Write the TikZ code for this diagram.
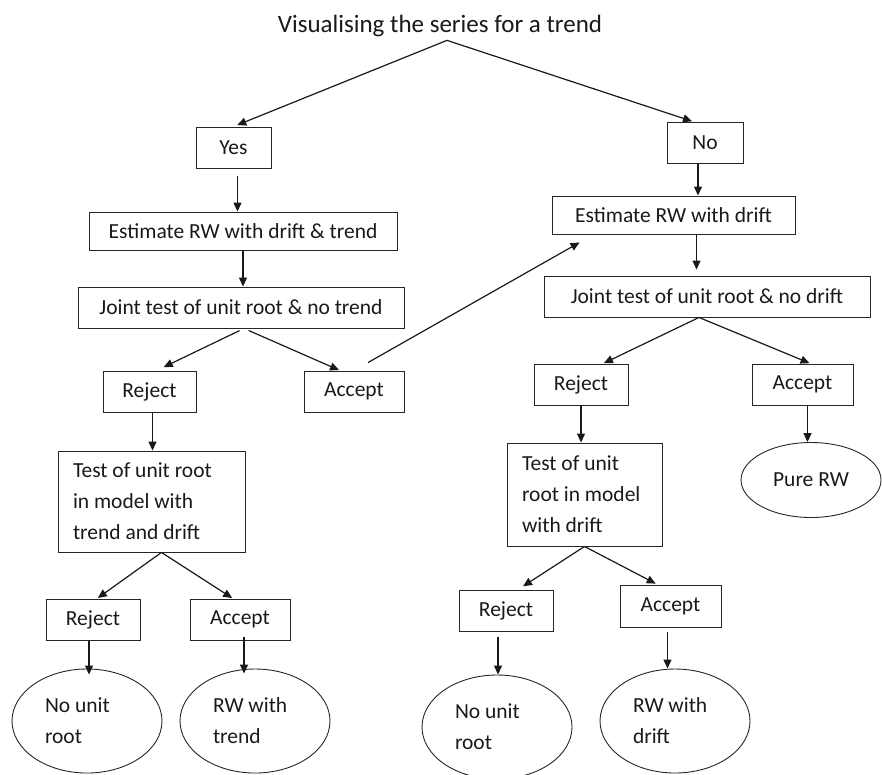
\documentclass[tikz,border=0pt]{standalone}
\usepackage{fontspec}
\setmainfont{Carlito}
\usetikzlibrary{arrows.meta,shapes.geometric}

\begin{document}
\begin{tikzpicture}[x=1pt, y=-1pt,
        every node/.style={font=\fontsize{21.5}{31}\selectfont, text=black!90},
        box/.style={draw=black!85, line width=0.9pt, rectangle, inner sep=0pt, minimum height=41pt},
        oval/.style={draw=black!85, line width=0.9pt, ellipse, inner sep=0pt, align=flush left, text width=84pt, minimum width=150pt, minimum height=104pt},
        arr/.style={-{Triangle[length=9pt, width=8pt]}, line width=1.2pt, black!90}]
        \useasboundingbox (0, 0) rectangle (882, 774);

        \node (title) at (440, 26) {\fontsize{25}{30}\selectfont Visualising the series for a trend};

        \node[box, minimum width=75pt] (yes) at (233.5, 147.5) {Yes};
        \node[box, minimum width=76pt] (no) at (705, 142.5) {No};

        \node[box, minimum width=308pt, minimum height=38pt] (estt) at (243, 231) {Estimate RW with drift \& trend};
        \node[box, minimum width=243pt, minimum height=38pt] (estd) at (673.5, 215) {Estimate RW with drift};

        \node[box, minimum width=326pt] (jtt) at (241, 307.5) {Joint test of unit root \& no trend};
        \node[box, minimum width=326pt] (jtd) at (707, 296.5) {Joint test of unit root \& no drift};

        \node[box, minimum width=93pt] (rej1) at (149.5, 391.5) {Reject};
        \node[box, minimum width=100pt] (acc1) at (354, 391.5) {Accept};
        \node[box, minimum width=94pt] (rej2) at (581, 384.5) {Reject};
        \node[box, minimum width=101pt] (acc2) at (802.5, 384.5) {Accept};

        \node[box, align=flush left, text width=157pt, minimum width=187pt, minimum height=101pt] (test1) at (151.5, 501.5) {Test of unit root\\in model with\\trend and drift};
        \node[box, align=flush left, text width=125pt, minimum width=155pt, minimum height=103pt] (test2) at (584.5, 494.5) {Test of unit\\root in model\\with drift};
        \node[oval, text width=, minimum width=140pt, minimum height=75pt] (purerw) at (811, 480) {Pure RW};

        \node[box, minimum width=94pt] (rej3) at (93, 619.5) {Reject};
        \node[box, minimum width=100pt] (acc3) at (240, 619.5) {Accept};
        \node[box, minimum width=94pt] (rej4) at (506, 610.5) {Reject};
        \node[box, minimum width=101pt, minimum height=42pt] (acc4) at (670.5, 606) {Accept};

        \node[oval] (nur1) at (87, 721) {No unit\\root};
        \node[oval] (rwt) at (255, 721) {RW with\\trend};
        \node[oval] (nur2) at (497, 727) {No unit\\root};
        \node[oval] (rwd) at (675, 721) {RW with\\drift};

        % trend branch
        \draw[arr, shorten >=4pt] ([xshift=7pt]title.south) -- (yes.north);
        \draw[arr, shorten >=1pt] ([xshift=7pt]title.south) -- ([xshift=-12pt]no.north);
        \draw[arr, shorten <=8pt] ([xshift=4pt]yes.south) -- ([xshift=4pt]yes.south |- estt.north);
        \draw[arr] (estt.south) -- (estt.south |- jtt.north);
        \draw[arr, shorten <=5pt, shorten >=8pt] ([xshift=3pt]jtt.south) -- ([xshift=7pt]rej1.north);
        \draw[arr, shorten <=5pt, shorten >=1pt] ([xshift=3pt]jtt.south) -- ([xshift=-14pt]acc1.north);
        \draw[arr] ([xshift=14pt, yshift=8pt]acc1.north) -- ([xshift=28pt, yshift=-8pt]estd.south west);
        \draw[arr] ([xshift=3pt]rej1.south) -- ([xshift=3pt]rej1.south |- test1.north);
        \draw[arr, shorten >=1pt] ([xshift=10pt]test1.south) -- ([xshift=4pt]rej3.north);
        \draw[arr, shorten >=1pt] ([xshift=10pt]test1.south) -- ([xshift=-7pt]acc3.north);
        \draw[arr, shorten >=-6pt] ([xshift=-4pt]rej3.south) -- ([xshift=-4pt]rej3.south |- nur1.north);
        \draw[arr, shorten <=-3pt, shorten >=-5pt] ([xshift=4pt]acc3.south) -- ([xshift=4pt]acc3.south |- rwt.north);

        % no trend branch
        \draw[arr] ([xshift=-7pt]no.south) -- ([xshift=-7pt]no.south |- estd.north);
        \draw[arr, shorten >=6pt] ([xshift=23pt]estd.south) -- ([xshift=23pt]estd.south |- jtd.north);
        \draw[arr, shorten >=1pt] ([xshift=-8pt]jtd.south) -- ([xshift=22pt]rej2.north);
        \draw[arr, shorten >=1pt] ([xshift=-8pt]jtd.south) -- ([xshift=8pt]acc2.north);
        \draw[arr] (rej2.south) -- (rej2.south |- test2.north);
        \draw[arr] ([xshift=5pt]acc2.south) -- ([xshift=5pt]acc2.south |- purerw.north);
        \draw[arr, shorten >=6pt] (test2.south) -- ([xshift=12pt]rej4.north);
        \draw[arr, shorten >=2pt] (test2.south) -- ([xshift=-13pt]acc4.north);
        \draw[arr, shorten <=6pt] ([xshift=-8pt]rej4.south) -- ([xshift=-8pt]rej4.south |- nur2.north);
        \draw[arr, shorten <=5pt] ([xshift=-3pt]acc4.south) -- ([xshift=-3pt]acc4.south |- rwd.north);
\end{tikzpicture}
\end{document}
